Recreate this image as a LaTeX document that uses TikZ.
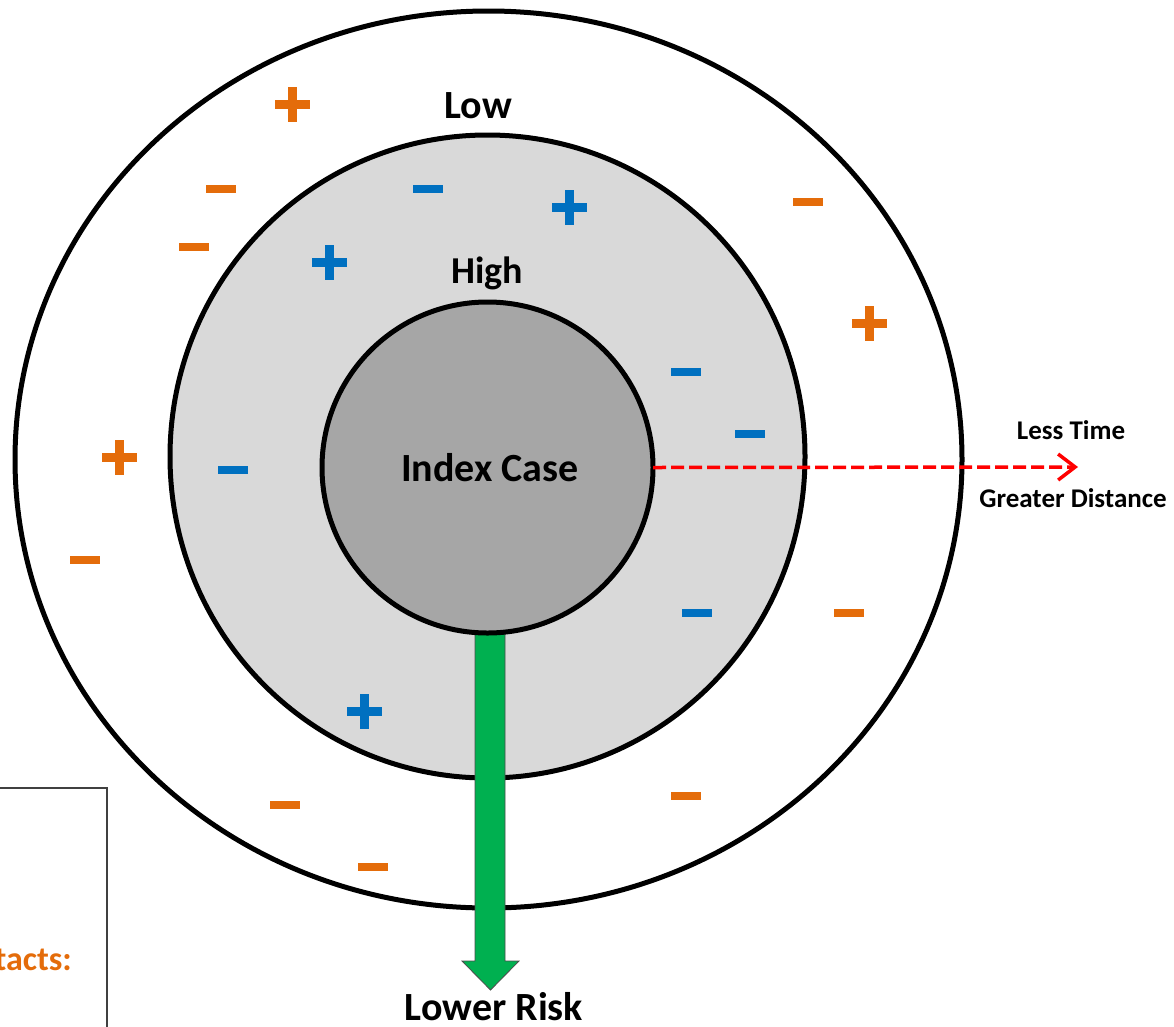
\documentclass[tikz,border=0pt]{standalone}
\usepackage{fontspec}
\setmainfont{Carlito}
\usetikzlibrary{shapes.geometric,arrows.meta}
\definecolor{corange}{HTML}{E46C0A}
\definecolor{cblue}{HTML}{0070C0}
\definecolor{cgreen}{HTML}{00B050}
\definecolor{cred}{HTML}{FF0000}
\definecolor{cmid}{HTML}{D9D9D9}
\definecolor{cinner}{HTML}{A6A6A6}
\tikzset{
  ring/.style={draw=black, line width=5pt, inner sep=0, outer sep=0},
  biglbl/.style={font=\bfseries\fontsize{40}{44}\selectfont, anchor=base, inner sep=0},
  smalllbl/.style={font=\bfseries\fontsize{27}{30}\selectfont, anchor=base, inner sep=0},
  pplus/.pic={\fill (-17.5,-4.5) rectangle (17.5,4.5); \fill (-4.5,-17.5) rectangle (4.5,17.5);},
  pminus/.pic={\fill (-15,-4) rectangle (15,4);},
  garrow/.style={fill=cgreen, draw=black!70, line width=0.8pt, line join=miter},
  rarrow/.style={draw=cred, line width=3.5pt, dash pattern=on 13pt off 5pt,
    -{Straight Barb[length=17pt,width=26pt,line width=3.5pt]}}
}
\begin{document}
\begin{tikzpicture}[x=1pt,y=-1pt]
\useasboundingbox (0,0) rectangle (1174,1026);
\clip (0,0) rectangle (1174,1026);
% rings
\node[ring, ellipse, fill=white, minimum width=947pt, minimum height=897pt] (outer) at (488.5,459.5) {};
\node[ring, ellipse, fill=cmid, minimum width=635pt, minimum height=643pt] (middle) at (487.5,456.5) {};
% green arrow
\coordinate (gtop) at (490,630);
\coordinate (gtip) at (490.5,990);
\draw[garrow] (gtop) ++(-15,0) -- ++(30,0) -- ++(0,331) -- ++(14,0) -- (gtip) -- ++(-28.5,-29) -- ++(13,0) -- cycle;
% inner
\node[ring, circle, fill=cinner, minimum size=331pt] (index) at (487.5,467.5) {};
\node[biglbl] (indexlbl) at (490,481) {Index Case};
% labels
\node[biglbl] (low) at (478,118) {Low};
\node[biglbl, font=\bfseries\fontsize{38}{42}\selectfont] (high) at (487.5,283) {High};
\node[biglbl] (lowerrisk) at (494,1020) {Lower Risk};
\node[smalllbl] (lesstime) at (1071,439) {Less Time};
\node[smalllbl] (greater) at (1073,507) {Greater Distance};
% red dashed arrow
\coordinate (rtip) at (1078,467);
\draw[rarrow] (index.east) -- (rtip);
% signs orange
\pic[color=corange] at (292,104) {pplus};
\pic[color=corange] at (869,323) {pplus};
\pic[color=corange] at (119,457) {pplus};
\pic[color=corange] at (221,189) {pminus};
\pic[color=corange] at (194,247) {pminus};
\pic[color=corange] at (808,202) {pminus};
\pic[color=corange] at (85,560) {pminus};
\pic[color=corange] at (849,613) {pminus};
\pic[color=corange] at (285,805) {pminus};
\pic[color=corange] at (373,867) {pminus};
\pic[color=corange] at (686,796) {pminus};
% signs blue
\pic[color=cblue] at (569,207) {pplus};
\pic[color=cblue] at (329.5,262) {pplus};
\pic[color=cblue] at (364,711) {pplus};
\pic[color=cblue] at (428,189) {pminus};
\pic[color=cblue] at (686,372) {pminus};
\pic[color=cblue] at (750,434) {pminus};
\pic[color=cblue] at (233,470) {pminus};
\pic[color=cblue] at (697,613) {pminus};
% legend box (cut off)
\draw[draw=black!75, line width=1.5pt] (-10,788) rectangle (107,1040);
\node[font=\bfseries\fontsize{34}{38}\selectfont, text=corange, anchor=base east, inner sep=0] (legendtxt) at (72,970) {tacts:};
\end{tikzpicture}
\end{document}
